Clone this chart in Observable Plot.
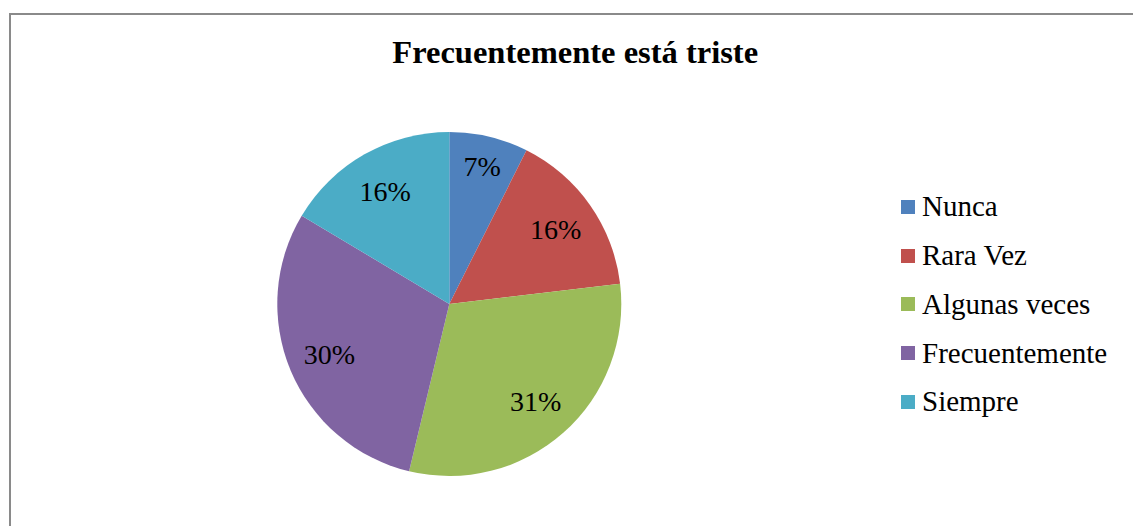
<!DOCTYPE html>
<html>
<head>
<meta charset="utf-8">
<script src="https://cdn.jsdelivr.net/npm/d3@7"></script>
<script src="https://cdn.jsdelivr.net/npm/@observablehq/plot@0.6"></script>
<style>
  html, body { margin: 0; padding: 0; background: #fff; width: 1133px; height: 526px; overflow: hidden; }
  #frame { position: absolute; left: 9px; top: 13px; width: 1200px; height: 600px;
           border-left: 2px solid #8a8a8a; border-top: 2px solid #8a8a8a; box-sizing: border-box; }
  #chart { position: absolute; left: 0; top: 0; }
  #legend { position: absolute; left: 901px; top: 182.6px; width: 232px; }
  #legend .lg-swatches { font-family: "Liberation Serif", "Times New Roman", serif !important; font-size: 29px !important; color: #000 !important; margin: 0 !important; }
  #legend .lg-swatch { height: 48.7px !important; padding: 0 !important; display: flex !important; align-items: center !important; }
  #legend .lg-swatch svg { margin-right: 7px !important; flex-shrink: 0; }
  #legend .lg-swatch-label, #legend .lg-swatch span { overflow: visible !important; }
</style>
</head>
<body>
<div id="frame"></div>
<div id="chart"></div>
<div id="legend"></div>
<script>
const title = "Frecuentemente está triste";
const categories = ["Nunca", "Rara Vez", "Algunas veces", "Frecuentemente", "Siempre"];
const values = [7.4, 15.7, 30.6, 29.8, 16.4];
const colors = ["#4F81BD", "#C0504D", "#9BBB59", "#8064A2", "#4BACC6"];

const data = categories.map((c, i) => ({category: c, value: values[i]}));
const total = d3.sum(values);

const W = 1133, H = 526;
const cx = 449.3, cy = 304, R = 172;

function pieMark(index, scales, vals, dims, context) {
  const g = d3.create("svg:g");
  const arcs = d3.pie().sort(null).value(d => d.value)(data);
  const arc = d3.arc().innerRadius(0).outerRadius(R);
  const x0 = scales.x(cx), y0 = scales.y(cy);
  const root = g.append("g").attr("transform", `translate(${x0},${y0})`);
  root.selectAll("path").data(arcs).join("path")
    .attr("d", arc)
    .attr("fill", d => scales.color(d.data.category));
  // narrow slices get their label pushed outward so it fits
  const lr = d => (d.endAngle - d.startAngle) < 0.6 ? 142 : 130;
  const pos = d => d3.arc().innerRadius(lr(d)).outerRadius(lr(d)).centroid(d);
  root.selectAll("text").data(arcs).join("text")
    .attr("x", d => pos(d)[0])
    .attr("y", d => pos(d)[1])
    .attr("dy", "0.35em")
    .attr("text-anchor", "middle")
    .attr("font-family", "Liberation Serif, Times New Roman, serif")
    .attr("font-size", 28)
    .attr("fill", "#000")
    .text(d => Math.round(d.data.value / total * 100) + "%");
  return g.node();
}

const chart = Plot.plot({
  width: W, height: H, margin: 0,
  x: {domain: [0, W], range: [0, W], axis: null},
  y: {domain: [0, H], range: [0, H], axis: null},
  color: {domain: categories, range: colors},
  style: {background: "transparent", overflow: "visible"},
  marks: [
    pieMark,
    Plot.text([title], {x: () => 574.7, y: () => 62, text: d => d, fontSize: 32.5, fontWeight: "bold",
      fontFamily: "Liberation Serif, Times New Roman, serif", fill: "#000", lineAnchor: "bottom", textAnchor: "middle"})
  ]
});
document.getElementById("chart").appendChild(chart);

const legend = Plot.legend({
  color: {domain: categories, range: colors},
  legend: "swatches", columns: 1, swatchSize: 14, className: "lg"
});
document.getElementById("legend").appendChild(legend);
</script>
</body>
</html>
